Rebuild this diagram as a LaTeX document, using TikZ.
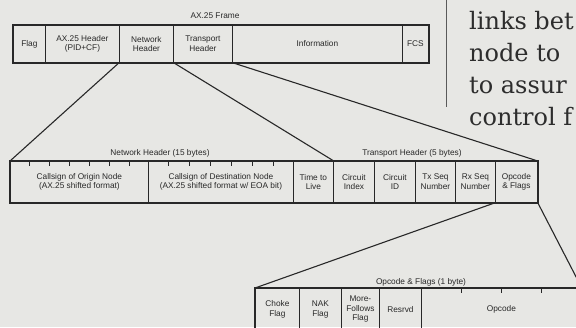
\documentclass[tikz,border=0pt]{standalone}
\usepackage{fontspec}
\setmainfont{Liberation Sans}
\newfontfamily\bodyserif{DejaVu Serif}
\usetikzlibrary{calc}
\definecolor{paper}{RGB}{231,231,228}
\definecolor{ink}{RGB}{40,40,40}
\definecolor{bodyink}{RGB}{45,45,45}
\definecolor{rulegray}{RGB}{90,90,90}
\begin{document}
\begin{tikzpicture}[x=1pt,y=-1pt,
  cell/.style={draw=ink, line width=0.8pt, inner sep=0pt, anchor=north west,
    align=center, font=\fontsize{8.3}{9.6}\selectfont, text=ink},
  outer/.style={draw=ink, line width=1.5pt},
  conn/.style={draw=ink, line width=1.1pt},
  ttl/.style={font=\fontsize{8.3}{9.6}\selectfont, text=ink, inner sep=0pt},
  tickmark/.style={draw=ink, line width=0.8pt},
  bodytxt/.style={font=\bodyserif\fontsize{24}{29}\selectfont, text=bodyink,
    anchor=base west, inner sep=0pt},
]
\fill[paper] (0,0) rectangle (576,327);
\useasboundingbox (0,0) rectangle (576,327);
\clip (0,0) rectangle (576,327);

% ---------- AX.25 frame ----------
\node[ttl] (frameT) at (215,16) {AX.25 Frame};
\node[cell, minimum width=32pt,  minimum height=37pt] (flag)  at (13,25)  {Flag};
\node[cell, minimum width=74pt,  minimum height=37pt] (ax)    at (45,25)  {AX.25 Header\\(PID+CF)};
\node[cell, minimum width=54pt,  minimum height=37pt] (net)   at (119,25) {Network\\Header};
\node[cell, minimum width=59pt,  minimum height=37pt] (trans) at (173,25) {Transport\\Header};
\node[cell, minimum width=170pt, minimum height=37pt] (info)  at (232,25) {Information};
\node[cell, minimum width=26pt,  minimum height=37pt] (fcs)   at (402,25) {FCS};
\draw[outer] (flag.north west) rectangle (fcs.south east);

% ---------- Network / Transport headers ----------
\node[ttl] (netT) at (160,153) {Network Header (15 bytes)};
\node[ttl] (trT)  at (412,153) {Transport Header (5 bytes)};
\node[cell, minimum width=138pt, minimum height=41pt] (orig) at (10,161)  {Callsign of Origin Node\\(AX.25 shifted format)};
\node[cell, minimum width=145pt, minimum height=41pt] (dest) at (148,161) {Callsign of Destination Node\\(AX.25 shifted format w/ EOA bit)};
\node[cell, minimum width=40pt,  minimum height=41pt] (ttl)  at (293,161) {Time to\\Live};
\node[cell, minimum width=41pt,  minimum height=41pt] (cidx) at (333,161) {Circuit\\Index};
\node[cell, minimum width=41pt,  minimum height=41pt] (cid)  at (374,161) {Circuit\\ID};
\node[cell, minimum width=40pt,  minimum height=41pt] (tx)   at (415,161) {Tx Seq\\Number};
\node[cell, minimum width=40pt,  minimum height=41pt] (rx)   at (455,161) {Rx Seq\\Number};
\node[cell, minimum width=42pt,  minimum height=41pt] (opf)  at (495,161) {Opcode\\\& Flags};
\draw[outer] (orig.north west) rectangle (opf.south east);
\foreach \i in {1,...,6}{
  \draw[tickmark] ($(orig.north west)!\i/7!(orig.north east)$) -- ++(0,5);
  \draw[tickmark] ($(dest.north west)!\i/7!(dest.north east)$) -- ++(0,5);
}

% ---------- Opcode & Flags ----------
\node[ttl] (opT) at (421,282) {Opcode \& Flags (1 byte)};
\node[cell, minimum width=44pt,  minimum height=42pt] (choke) at (255,288) {Choke\\Flag};
\node[cell, minimum width=42pt,  minimum height=42pt] (nak)   at (299,288) {NAK\\Flag};
\node[cell, minimum width=38pt,  minimum height=42pt] (more)  at (341,288) {More-\\Follows\\Flag};
\node[cell, minimum width=42pt,  minimum height=42pt] (resv)  at (379,288) {Resrvd};
\node[cell, minimum width=160pt, minimum height=42pt] (opc)   at (421,288) {Opcode};
\draw[outer] (choke.north west) rectangle (opc.south east);
\foreach \i in {1,...,3}{
  \draw[tickmark] ($(opc.north west)!\i/4!(opc.north east)$) -- ++(0,5);
}

% ---------- expansion connectors ----------
\draw[conn] (net.south west) -- (orig.north west);
\draw[conn] (net.south east) -- (ttl.north east);
\draw[conn] (trans.south east) -- (opf.north east);
\draw[conn] (opf.south west) -- (choke.north west);
\draw[conn] (opf.south east) -- (opc.north east);

% ---------- page text at right ----------
\draw[rulegray, line width=0.8pt] (446,0) -- (446,107);
\node[bodytxt] (b1) at (469,29)  {links bet};
\node[bodytxt] (b2) at (469,61)  {node to};
\node[bodytxt] (b3) at (469,93)  {to assur};
\node[bodytxt] (b4) at (469,125) {control f};
\end{tikzpicture}
\end{document}
